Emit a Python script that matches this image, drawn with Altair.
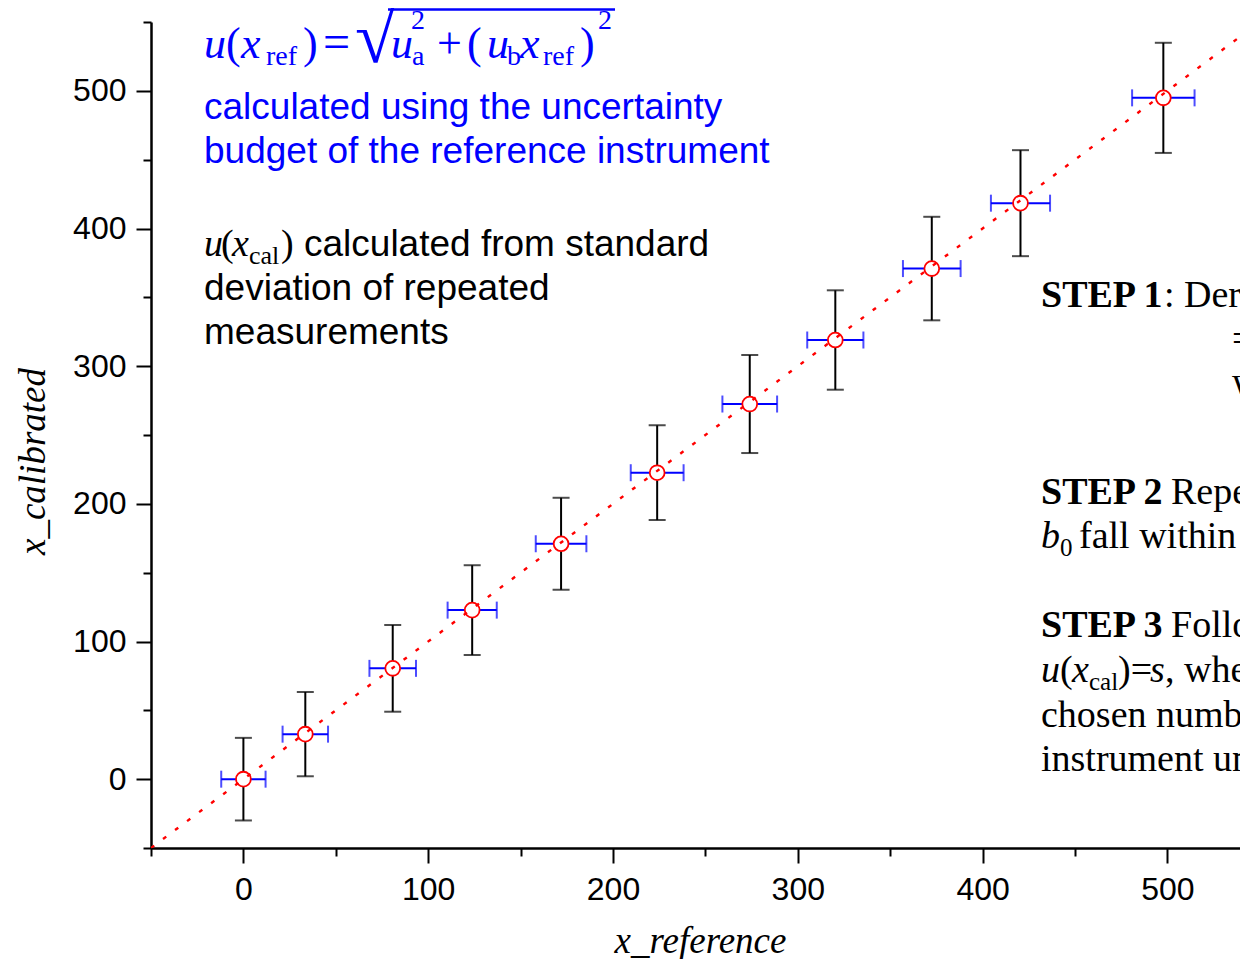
import altair as alt
import pandas as pd

# ---- data ----
x_ref = [0.0, 33.5, 80.8, 123.8, 171.9, 223.9, 274.0, 320.3, 372.5, 420.5, 497.8]
x_cal = [0.0, 32.7, 80.5, 122.8, 171.0, 222.6, 272.5, 319.0, 370.9, 418.4, 494.9]
u_ref = [12.0, 12.3, 12.6, 13.3, 13.7, 14.3, 14.8, 15.2, 15.6, 16.0, 16.9]
u_cal = [30.0, 30.6, 31.5, 32.6, 33.4, 34.4, 35.6, 36.1, 37.6, 38.5, 40.0]
line_x = [-50, 550]
line_y = [-50, 550]
tick_values = [-50, 0, 50, 100, 150, 200, 250, 300, 350, 400, 450, 500, 550]

df = pd.DataFrame({"x": x_ref, "y": x_cal, "ux": u_ref, "uy": u_cal})
df["xlo"] = df["x"] - df["ux"]
df["xhi"] = df["x"] + df["ux"]
df["ylo"] = df["y"] - df["uy"]
df["yhi"] = df["y"] + df["uy"]
line_df = pd.DataFrame({"x": line_x, "y": line_y})

# ---- layout ----
X0, Y0 = 151, 22          # page position of plot origin
W, H = 1089, 826
XMAX = -50 + W / 1.848

SANS = "Liberation Sans"
SERIF = "Liberation Serif"
BLUE = "#0000FF"
RED = "#FF0000"

xs = alt.Scale(domain=[-50, XMAX], nice=False, zero=False)
ys = alt.Scale(domain=[-50, 550], nice=False, zero=False)

tick_size = {"condition": {"test": "datum.value % 100 === 0", "value": 15}, "value": 8}
label_expr = "datum.value % 100 === 0 ? datum.label : ''"

common_axis = dict(
    values=tick_values, grid=False, domainColor="black", domainWidth=2.5,
    tickColor="black", tickWidth=2, tickSize=tick_size, labelExpr=label_expr,
    labelFont=SANS, labelFontSize=32, labelColor="black", labelOverlap=False,
    labelFlush=False, titleFont=SERIF, titleFontStyle="italic",
    titleFontWeight="normal", titleFontSize=37, titleColor="black",
)

x_axis = alt.Axis(title="x_reference", labelPadding=11, titleX=549, titleY=104,
                  titleBaseline="alphabetic", titleAlign="center", **common_axis)
y_axis = alt.Axis(title="x_calibrated", labelPadding=10, titleX=-107, titleY=439,
                  titleAngle=270, titleBaseline="alphabetic", titleAlign="center",
                  **common_axis)

base = alt.Chart(df)

vbar = base.mark_rule(color="black", strokeWidth=2).encode(
    x=alt.X("x:Q", scale=xs, axis=x_axis),
    y=alt.Y("ylo:Q", scale=ys, axis=y_axis),
    y2="yhi:Q",
)
vcap_lo = base.mark_tick(orient="horizontal", size=17, thickness=2, color="black").encode(
    x=alt.X("x:Q", scale=xs), y=alt.Y("ylo:Q", scale=ys))
vcap_hi = base.mark_tick(orient="horizontal", size=17, thickness=2, color="black").encode(
    x=alt.X("x:Q", scale=xs), y=alt.Y("yhi:Q", scale=ys))
hbar = base.mark_rule(color=BLUE, strokeWidth=2).encode(
    x=alt.X("xlo:Q", scale=xs), x2="xhi:Q", y=alt.Y("y:Q", scale=ys))
hcap_lo = base.mark_tick(orient="vertical", size=17, thickness=2, color=BLUE).encode(
    x=alt.X("xlo:Q", scale=xs), y=alt.Y("y:Q", scale=ys))
hcap_hi = base.mark_tick(orient="vertical", size=17, thickness=2, color=BLUE).encode(
    x=alt.X("xhi:Q", scale=xs), y=alt.Y("y:Q", scale=ys))
pts = base.mark_point(shape="circle", size=220, fill="white", fillOpacity=1,
                      stroke=RED, strokeWidth=1.8, opacity=1).encode(
    x=alt.X("x:Q", scale=xs), y=alt.Y("y:Q", scale=ys))
fit = alt.Chart(line_df).mark_line(color=RED, strokeWidth=2.4, strokeDash=[4, 11],
                                   clip=True).encode(
    x=alt.X("x:Q", scale=xs), y=alt.Y("y:Q", scale=ys))


def txt(s, px, py, size=37, font=SANS, style="normal", weight="normal", color="black"):
    return alt.Chart(alt.Data(values=[{"t": s}])).mark_text(
        align="left", baseline="alphabetic", font=font, fontSize=size,
        fontStyle=style, fontWeight=weight, color=color,
    ).encode(x=alt.value(px - X0), y=alt.value(py - Y0), text="t:N")


def serif(s, px, py, size=38, style="normal", weight="normal", color="black"):
    return txt(s, px, py, size, SERIF, style, weight, color)


ann = []
# formula (blue)
fb, fs = 44, 28
ann += [
    serif("u", 204, 58, fb, "italic", color=BLUE),
    serif("(", 226, 58, fb, color=BLUE),
    serif("x", 241, 58, fb, "italic", color=BLUE),
    serif("ref", 266, 65, fs, color=BLUE),
    serif(")", 303, 58, fb, color=BLUE),
    serif("=", 323, 58, 48, color=BLUE),
    serif("\u221a", 355, 62, 74, color=BLUE),
    serif("u", 391, 58, fb, "italic", color=BLUE),
    serif("2", 411, 29, fs, color=BLUE),
    serif("a", 412, 65, fs, color=BLUE),
    serif("+", 437, 58, fb, color=BLUE),
    serif("(", 467, 58, fb, color=BLUE),
    serif("u", 487, 58, fb, "italic", color=BLUE),
    serif("b", 507, 65, fs, color=BLUE),
    serif("x", 520, 58, fb, "italic", color=BLUE),
    serif("ref", 543, 65, fs, color=BLUE),
    serif(")", 580, 58, fb, color=BLUE),
    serif("2", 598, 29, fs, color=BLUE),
]
overline = alt.Chart(alt.Data(values=[{"a": 1}])).mark_rule(
    color=BLUE, strokeWidth=2.5).encode(
    x=alt.value(388 - X0), x2=alt.value(615 - X0), y=alt.value(9.5 - Y0))
ann.append(overline)

ann += [
    txt("calculated using the uncertainty", 204, 119, color=BLUE),
    txt("budget of the reference instrument", 204, 163, color=BLUE),
    serif("u", 204, 256, 38, "italic"),
    serif("(", 221, 256, 38),
    serif("x", 232, 256, 38, "italic"),
    serif("cal", 249, 264, 26),
    serif(")", 281, 256, 38),
    txt("calculated from standard", 304, 256),
    txt("deviation of repeated", 204, 300),
    txt("measurements", 204, 344),
]

# right-hand text block (Times)
ann += [
    serif("STEP 1", 1041, 307, weight="bold"),
    serif(": Derive the calibration function", 1164, 307),
    serif("= b0 + b1 x", 1232, 351),
    serif("where", 1232, 394),
    serif("STEP 2", 1041, 504, weight="bold"),
    serif("Repeat step 1 until", 1171, 504),
    serif("b", 1041, 548, style="italic"),
    serif("0", 1060, 556, 25),
    serif("fall within", 1079, 548),
    serif("u", 1239, 548, style="italic"),
    serif("STEP 3", 1041, 637, weight="bold"),
    serif("Follow the procedure", 1171, 637),
    serif("u", 1041, 682, style="italic"),
    serif("(", 1060, 682),
    serif("x", 1072, 682, style="italic"),
    serif("cal", 1089, 690, 25),
    serif(")=", 1118, 682),
    serif("s", 1150, 682, style="italic"),
    serif(", where", 1165, 682),
    serif("chosen number of", 1041, 727),
    serif("instrument uncertainty", 1041, 771),
]

chart = alt.layer(
    vbar, vcap_lo, vcap_hi, hbar, hcap_lo, hcap_hi, pts, fit, *ann
).properties(
    width=W, height=H, autosize="none",
    padding={"left": X0 - 8, "top": Y0 - 8, "right": 0, "bottom": 111},
).configure_view(stroke="transparent")

chart.save("out.html", embed_options={"renderer": "svg", "actions": False})
